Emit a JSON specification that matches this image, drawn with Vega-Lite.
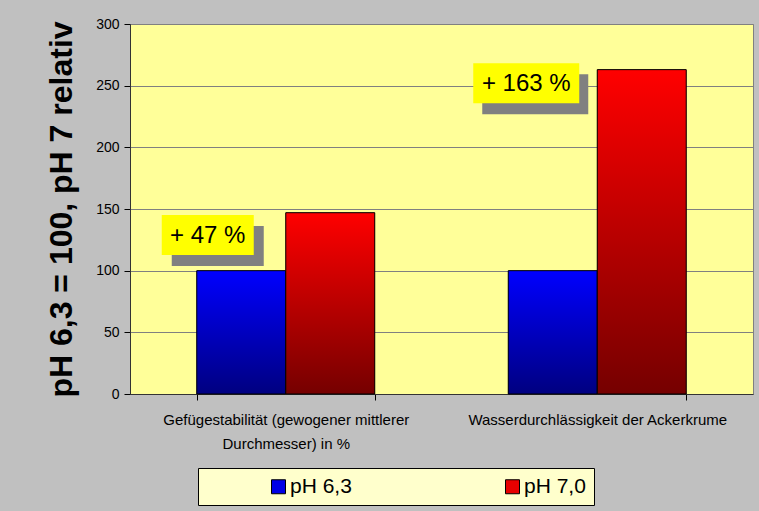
{
  "$schema": "https://vega.github.io/schema/vega-lite/v6.json",
  "autosize": "none",
  "width": 623,
  "height": 370,
  "padding": {"left": 130, "top": 24, "right": 6, "bottom": 117},
  "background": "#C0C0C0",
  "config": {
    "font": "Liberation Sans",
    "view": {"fill": "#FFFF99", "stroke": "#808080", "strokeWidth": 1}
  },
  "datasets": {
    "balken": [
      {"kategorie": "Gefügestabilität (gewogener mittlerer Durchmesser) in %", "serie": "pH 6,3", "wert": 100},
      {"kategorie": "Gefügestabilität (gewogener mittlerer Durchmesser) in %", "serie": "pH 7,0", "wert": 147},
      {"kategorie": "Wasserdurchlässigkeit der Ackerkrume", "serie": "pH 6,3", "wert": 100},
      {"kategorie": "Wasserdurchlässigkeit der Ackerkrume", "serie": "pH 7,0", "wert": 263}
    ],
    "notiz": [
      {"kategorie": "Gefügestabilität (gewogener mittlerer Durchmesser) in %", "text": "+ 47 %", "pos": 129},
      {"kategorie": "Wasserdurchlässigkeit der Ackerkrume", "text": "+ 163 %", "pos": 252}
    ]
  },
  "layer": [
    {
      "data": {"name": "balken"},
      "mark": {"type": "bar"},
      "encoding": {
        "x": {
          "field": "kategorie", "type": "nominal", "sort": null,
          "scale": {"paddingInner": 0.4286, "paddingOuter": 0.2143},
          "axis": {
            "title": null, "labelAngle": 0, "labelFontSize": 15, "labelColor": "#000000",
            "labelLimit": 400, "labelPadding": 12, "labelLineHeight": 24,
            "tickBand": "extent", "tickSize": 6, "tickColor": "#000000",
            "domainColor": "#333333",
            "labelExpr": "datum.label == 'Gefügestabilität (gewogener mittlerer Durchmesser) in %' ? ['Gefügestabilität (gewogener mittlerer', 'Durchmesser) in %'] : datum.label"
          }
        },
        "xOffset": {
          "field": "serie", "type": "nominal", "sort": null,
          "scale": {"paddingInner": 0, "paddingOuter": 0}
        },
        "y": {
          "field": "wert", "type": "quantitative",
          "scale": {"domain": [0, 300], "nice": false},
          "axis": {
            "title": "pH 6,3 = 100, pH 7 relativ",
            "titleFontSize": 32, "titleFontWeight": "bold", "titleColor": "#000000", "titlePadding": 17,
            "values": [0, 50, 100, 150, 200, 250, 300],
            "labelFontSize": 14, "labelColor": "#000000", "labelPadding": 5,
            "tickSize": 6, "tickColor": "#000000", "domainColor": "#333333",
            "gridColor": "#808080", "gridOpacity": 1
          }
        },
        "color": {
          "field": "serie", "type": "nominal", "sort": null,
          "scale": {"domain": ["pH 6,3", "pH 7,0"], "range": ["#0000E6", "#E60000"]},
          "legend": {
            "orient": "none", "legendX": 68, "legendY": 444, "direction": "horizontal",
            "title": null, "fillColor": "#FFFFCC", "strokeColor": "#000000", "padding": 8,
            "labelFontSize": 21, "labelColor": "#000000", "labelOffset": 1,
            "symbolType": "square", "symbolSize": 196, "symbolStrokeColor": "#000000",
            "symbolStrokeWidth": 1, "symbolOffset": 62, "columnPadding": 88,
            "encode": {"legend": {"update": {"width": {"value": 462}, "height": {"value": 36}}}}
          }
        }
      }
    },
    {
      "data": {"name": "balken"},
      "mark": {"type": "bar", "stroke": "#000000", "strokeWidth": 1},
      "encoding": {
        "x": {"field": "kategorie", "type": "nominal", "sort": null},
        "xOffset": {"field": "serie", "type": "nominal", "sort": null},
        "y": {"field": "wert", "type": "quantitative"},
        "fill": {
          "condition": {
            "test": "datum.serie == 'pH 6,3'",
            "value": {"gradient": "linear", "x1": 0, "y1": 0, "x2": 0, "y2": 1,
              "stops": [{"offset": 0, "color": "#0000FF"}, {"offset": 1, "color": "#000080"}]}
          },
          "value": {"gradient": "linear", "x1": 0, "y1": 0, "x2": 0, "y2": 1,
            "stops": [{"offset": 0, "color": "#FF0000"}, {"offset": 1, "color": "#750000"}]}
        }
      }
    },
    {
      "data": {"name": "notiz"},
      "transform": [{"filter": "datum.text == '+ 47 %'"}],
      "encoding": {
        "x": {"field": "kategorie", "type": "nominal", "sort": null},
        "y": {"field": "pos", "type": "quantitative"}
      },
      "layer": [
        {"mark": {"type": "point", "filled": true, "fill": "#808080", "opacity": 1, "strokeWidth": 0,
          "shape": "M-1,-0.435H1V0.435H-1Z", "size": 8464, "xOffset": -68, "yOffset": 11}},
        {"mark": {"type": "point", "filled": true, "fill": "#FFFF00", "opacity": 1, "strokeWidth": 0,
          "shape": "M-1,-0.435H1V0.435H-1Z", "size": 8464, "xOffset": -78}},
        {"mark": {"type": "text", "fontSize": 24, "color": "#000000", "align": "center", "baseline": "middle", "xOffset": -78, "yOffset": 1},
          "encoding": {"text": {"field": "text"}}}
      ]
    },
    {
      "data": {"name": "notiz"},
      "transform": [{"filter": "datum.text == '+ 163 %'"}],
      "encoding": {
        "x": {"field": "kategorie", "type": "nominal", "sort": null},
        "y": {"field": "pos", "type": "quantitative"}
      },
      "layer": [
        {"mark": {"type": "point", "filled": true, "fill": "#808080", "opacity": 1, "strokeWidth": 0,
          "shape": "M-1,-0.377H1V0.377H-1Z", "size": 11236, "xOffset": -62, "yOffset": 11}},
        {"mark": {"type": "point", "filled": true, "fill": "#FFFF00", "opacity": 1, "strokeWidth": 0,
          "shape": "M-1,-0.377H1V0.377H-1Z", "size": 11236, "xOffset": -71}},
        {"mark": {"type": "text", "fontSize": 24, "color": "#000000", "align": "center", "baseline": "middle", "xOffset": -71, "yOffset": 1},
          "encoding": {"text": {"field": "text"}}}
      ]
    }
  ]
}
